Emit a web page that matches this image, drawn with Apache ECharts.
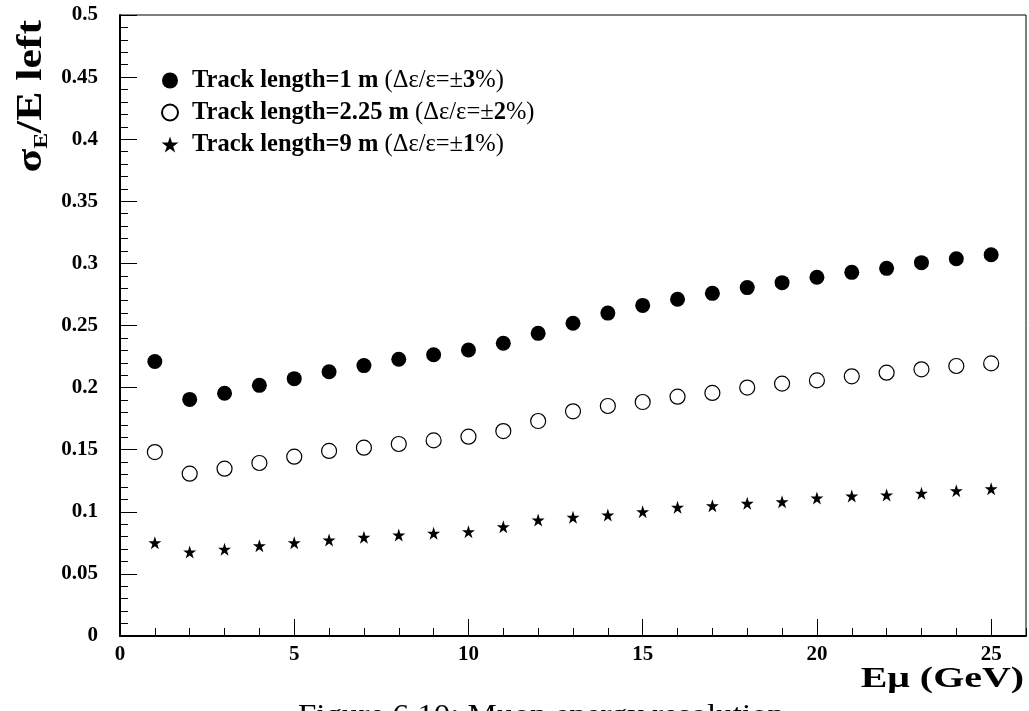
<!DOCTYPE html>
<html>
<head>
<meta charset="utf-8">
<script src="https://cdn.jsdelivr.net/npm/echarts@6/dist/echarts.min.js"></script>
<style>
html,body{margin:0;padding:0;background:#fff;}
#chart{width:1029px;height:711px;}
</style>
</head>
<body>
<div id="chart"></div>
<script>
// Data
const energies = [1,2,3,4,5,6,7,8,9,10,11,12,13,14,15,16,17,18,19,20,21,22,23,24,25];
const track1m = [0.221,0.1905,0.1954,0.2018,0.2072,0.2128,0.2177,0.2228,0.2265,0.2303,0.2357,0.2437,0.2518,0.2600,0.2662,0.2711,0.2759,0.2805,0.2845,0.2888,0.2928,0.2960,0.3006,0.3038,0.3070];
const track225m = [0.1481,0.1307,0.1347,0.1393,0.1444,0.1490,0.1516,0.1546,0.1575,0.1605,0.1650,0.1731,0.1809,0.1852,0.1884,0.1927,0.1957,0.2000,0.2032,0.2058,0.2091,0.2120,0.2147,0.2174,0.2195];
const track9m = [0.0751,0.0676,0.0698,0.0727,0.0751,0.0773,0.0795,0.0813,0.0827,0.0840,0.0880,0.0934,0.0956,0.0974,0.1001,0.1036,0.1049,0.1068,0.1081,0.1111,0.1127,0.1135,0.1149,0.1170,0.1186];
const seriesNames = ['Track length=1 m (Δε/ε=±3%)','Track length=2.25 m (Δε/ε=±2%)','Track length=9 m (Δε/ε=±1%)'];
const legendRich = [
  '{b|Track length=1 m} {n|(Δε/ε=±}{b|3}{n|%)}',
  '{b|Track length=2.25 m} {n|(Δε/ε=±}{b|2}{n|%)}',
  '{b|Track length=9 m} {n|(Δε/ε=±}{b|1}{n|%)}'
];
const xTitle = 'Eμ (GeV)';
const captionText = 'Figure 6.10: Muon energy resolution';

const FONT = '"Liberation Serif", "Times New Roman", serif';
const STAR = 'path://M0,-1 L0.2245,-0.309 L0.951,-0.309 L0.363,0.118 L0.588,0.809 L0,0.382 L-0.588,0.809 L-0.363,0.118 L-0.951,-0.309 L-0.2245,-0.309 Z';

function pairs(ys){ return energies.map((x,i)=>[x, ys[i]]); }

const chart = echarts.init(document.getElementById('chart'), null, {renderer:'canvas'});
const axisLabelStyle = {color:'#000', fontFamily:FONT, fontWeight:'bold', fontSize:21};
chart.setOption({
  animation:false,
  backgroundColor:'#fff',
  grid:{left:120, right:3, top:15, bottom:75, show:true, borderColor:'#000', borderWidth:1, backgroundColor:'transparent'},
  xAxis:[{
    type:'value', min:0, max:26, interval:5, position:'bottom',
    axisLine:{show:true, lineStyle:{color:'#000', width:2}},
    axisTick:{show:true, inside:true, length:17, lineStyle:{color:'#000', width:1}},
    splitLine:{show:false},
    axisLabel:Object.assign({margin:8, showMaxLabel:false}, axisLabelStyle)
  },{
    type:'value', min:0, max:26, interval:1, position:'bottom',
    axisLine:{show:false},
    axisTick:{show:true, inside:true, length:8, lineStyle:{color:'#000', width:1}},
    splitLine:{show:false},
    axisLabel:{show:false}
  }],
  yAxis:{
    type:'value', min:0, max:0.5, interval:0.05,
    axisLine:{show:true, lineStyle:{color:'#000', width:2}},
    axisTick:{show:true, inside:true, length:17, lineStyle:{color:'#000', width:1}},
    minorTick:{show:true, splitNumber:5, length:8, lineStyle:{color:'#000', width:1}},
    splitLine:{show:false},
    axisLabel:Object.assign({margin:22}, axisLabelStyle)
  },
  legend:{
    show:true, orient:'vertical', left:156, top:63,
    itemWidth:34, itemHeight:16, itemGap:7, selectedMode:false,
    data:seriesNames,
    formatter:function(name){ return legendRich[seriesNames.indexOf(name)]; },
    textStyle:{color:'#000', fontFamily:FONT, fontSize:24.5,
      rich:{
        b:{fontFamily:FONT, fontSize:24.5, fontWeight:'bold', color:'#000'},
        n:{fontFamily:FONT, fontSize:24.5, fontWeight:'normal', color:'#000'}
      }}
  },
  series:[
    {name:seriesNames[0], type:'scatter', symbol:'circle', symbolSize:15, data:pairs(track1m),
      itemStyle:{color:'#000', opacity:1}},
    {name:seriesNames[1], type:'scatter', symbol:'circle', symbolSize:15, data:pairs(track225m),
      itemStyle:{color:'#fff', borderColor:'#000', borderWidth:1.2, opacity:1}},
    {name:seriesNames[2], type:'scatter', symbol:STAR, symbolSize:13, data:pairs(track9m),
      itemStyle:{color:'#000', opacity:1}}
  ],
  graphic:[
    {type:'text', x:32, y:20, rotation:Math.PI/2, scaleX:1.25, scaleY:1,
      style:{text:'{a|σ}{s|E}{a|/E left}', textAlign:'right', textVerticalAlign:'middle', fill:'#000',
        font:'bold 35px ' + FONT,
        rich:{
          a:{fontFamily:FONT, fontSize:35, fontWeight:'bold', lineHeight:40, fill:'#000'},
          s:{fontFamily:FONT, fontSize:19, fontWeight:'bold', lineHeight:12, verticalAlign:'bottom', fill:'#000'}
        }}},
    {type:'text', x:1024, y:679, scaleX:1.33,
      style:{text:xTitle, textAlign:'right', textVerticalAlign:'middle', fill:'#000', font:'bold 30px ' + FONT}},
    {type:'text', x:298, y:716, scaleX:1.1,
      style:{text:captionText, textAlign:'left', textVerticalAlign:'middle', fill:'#000', font:'30px ' + FONT}}
  ]
});
</script>
</body>
</html>
